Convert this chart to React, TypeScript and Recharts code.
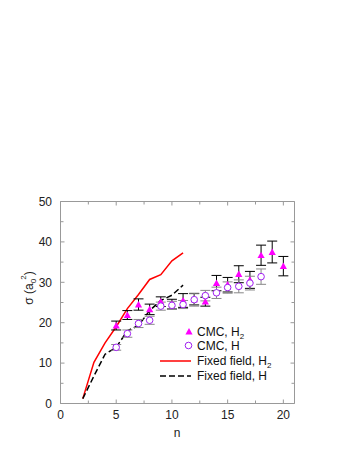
import React from 'react'
import { ComposedChart, Line, Scatter, ErrorBar, XAxis, YAxis, ReferenceArea, Legend } from 'recharts'

// fixed field calculations, n = 2..11
const nField = [2, 3, 4, 5, 6, 7, 8, 9, 10, 11]
const fixedH2 = [1.2, 10.2, 15.0, 19.0, 23.5, 27.0, 30.7, 31.9, 35.3, 37.3]
const fixedH = [1.2, 6.8, 12.2, 13.9, 18.0, 19.3, 23.0, 25.5, 26.8, 29.3]

// CMC results with error bars
const nCmcH2 = [5, 6, 7, 8, 9, 10, 11, 12, 13, 14, 15, 16, 17, 18, 19, 20]
const cmcH2 = [19.3, 21.9, 24.5, 23.3, 25.2, 24.6, 25.5, 25.8, 25.2, 29.8, 29.4, 32.0, 30.6, 36.7, 37.5, 34.0]
const cmcH2Err = [1.1, 1.1, 1.4, 1.3, 1.2, 1.2, 1.7, 1.4, 1.1, 1.9, 1.8, 2.1, 2.1, 2.5, 2.7, 2.4]

const nCmcH = [5, 6, 7, 8, 9, 10, 11, 12, 13, 14, 15, 16, 17, 18]
const cmcH = [13.9, 17.3, 19.8, 20.6, 24.1, 24.3, 24.5, 25.7, 26.7, 27.4, 28.7, 29.0, 29.8, 31.4]
const cmcHErr = [0.7, 0.9, 1.0, 1.0, 1.0, 1.0, 1.0, 1.6, 1.3, 1.4, 1.4, 1.6, 1.7, 1.9]

const xTicks = [0, 2.5, 5, 7.5, 10, 12.5, 15, 17.5, 20]
const yTicks = [0, 5, 10, 15, 20, 25, 30, 35, 40, 45, 50]

const fieldH2Data = nField.map((n, i) => ({ n, v: fixedH2[i] }))
const fieldHData = nField.map((n, i) => ({ n, v: fixedH[i] }))
const cmcH2Data = nCmcH2.map((n, i) => ({ n, v: cmcH2[i], e: cmcH2Err[i] }))
const cmcHData = nCmcH.map((n, i) => ({ n, v: cmcH[i], e: cmcHErr[i] }))

// plot frame
const L = 60.5
const R = 294.5
const T = 201.5
const B = 403.5
const font = '"Liberation Sans", Arial, sans-serif'
const frameColor = '#999'
const magenta = '#ff00ff'
const purple = '#a020f0'

const XTick = (props: any) => {
  const { x, payload } = props
  const v = payload.value
  const major = v % 5 === 0
  const len = major ? 4 : 3
  return (
    <g>
      <line x1={x} y1={B} x2={x} y2={B - len} stroke={frameColor} />
      <line x1={x} y1={T} x2={x} y2={T + len} stroke={frameColor} />
      {major && (
        <text x={x} y={B + 7} dy="0.71em" textAnchor="middle" fontSize={12} fontFamily={font} fill="#222">
          {v}
        </text>
      )}
    </g>
  )
}

const YTick = (props: any) => {
  const { y, payload } = props
  const v = payload.value
  const major = v % 10 === 0
  const len = major ? 4 : 3
  return (
    <g>
      <line x1={L} y1={y} x2={L + len} y2={y} stroke={frameColor} />
      <line x1={R} y1={y} x2={R - len} y2={y} stroke={frameColor} />
      {major && (
        <text x={52} y={y} dy="0.355em" textAnchor="end" fontSize={12} fontFamily={font} fill="#222">
          {v}
        </text>
      )}
    </g>
  )
}

const XLabel = () => (
  <text x={177} y={437} textAnchor="middle" fontSize={12} fontFamily={font} fill="#222">
    n
  </text>
)

const YLabel = () => (
  <text
    x={33}
    y={288}
    transform="rotate(-90, 33, 288)"
    textAnchor="middle"
    fontSize={12}
    fontFamily={font}
    fill="#222"
  >
    σ (a<tspan dy={3} fontSize={8}>0</tspan>
    <tspan dy={-10} dx={-1} fontSize={8}>2</tspan>
    <tspan dy={7}>)</tspan>
  </text>
)

const Triangle = (props: any) => {
  const { cx, cy } = props
  const s = 3.6
  return <polygon points={`${cx},${cy - s} ${cx - s},${cy + s * 0.8} ${cx + s},${cy + s * 0.8}`} fill={magenta} />
}

const Circle = (props: any) => {
  const { cx, cy } = props
  return <circle cx={cx} cy={cy} r={3.3} fill="#fff" stroke={purple} strokeWidth={1} />
}

const LegendBox = () => (
  <svg width={180} height={62} style={{ display: 'block' }}>
    <g fontSize={12} fontFamily={font} fill="#111">
      <polygon points="34,6 30.4,12.4 37.6,12.4" fill={magenta} />
      <text x={42} y={9.5} dy="0.355em">
        CMC, H<tspan dy={3} fontSize={8}>2</tspan>
      </text>
      <circle cx={33.5} cy={23.5} r={3.3} fill="#fff" stroke={purple} />
      <text x={42} y={23.5} dy="0.355em">CMC, H</text>
      <line x1={5} y1={39} x2={36} y2={39} stroke="#ff0000" strokeWidth={1.5} />
      <text x={42} y={39} dy="0.355em">
        Fixed field, H<tspan dy={3} fontSize={8}>2</tspan>
      </text>
      <line x1={5} y1={54} x2={36} y2={54} stroke="#000" strokeWidth={1.5} strokeDasharray="6 3" />
      <text x={42} y={54} dy="0.355em">Fixed field, H</text>
    </g>
  </svg>
)

export default function App() {
  return (
    <div style={{ position: 'absolute', left: 0, top: 0, width: 354, height: 458, background: '#fff' }}>
      <ComposedChart width={354} height={458} margin={{ top: T, right: 354 - R, bottom: 458 - B - 30, left: 0 }}>
        <XAxis
          type="number"
          dataKey="n"
          domain={[0, 21]}
          ticks={xTicks}
          tick={<XTick />}
          tickLine={false}
          axisLine={false}
          height={30}
          interval={0}
          label={<XLabel />}
          allowDataOverflow
        />
        <YAxis
          type="number"
          domain={[0, 50]}
          ticks={yTicks}
          tick={<YTick />}
          tickLine={false}
          axisLine={false}
          width={L}
          interval={0}
          label={<YLabel />}
          allowDataOverflow
        />
        <ReferenceArea x1={0} x2={21} y1={0} y2={50} fill="none" stroke={frameColor} strokeWidth={1} />
        <Line
          data={fieldH2Data}
          dataKey="v"
          type="linear"
          stroke="#ff0000"
          strokeWidth={1.5}
          dot={false}
          isAnimationActive={false}
        />
        <Line
          data={fieldHData}
          dataKey="v"
          type="linear"
          stroke="#000"
          strokeWidth={1.5}
          strokeDasharray="6 3"
          dot={false}
          isAnimationActive={false}
        />
        <Scatter data={cmcH2Data} dataKey="v" shape={<Triangle />} isAnimationActive={false}>
          <ErrorBar dataKey="e" direction="y" width={5} stroke="#000" strokeWidth={1} isAnimationActive={false} />
        </Scatter>
        <Scatter data={cmcHData} dataKey="v" shape={<Circle />} isAnimationActive={false}>
          <ErrorBar dataKey="e" direction="y" width={5} stroke="#888" strokeWidth={1} isAnimationActive={false} />
        </Scatter>
        <Legend
          layout="horizontal"
          verticalAlign="middle"
          align="center"
          content={() => <LegendBox />}
          wrapperStyle={{ position: 'absolute', left: 155, top: 322, width: 180, height: 62 }}
        />
      </ComposedChart>
    </div>
  )
}
